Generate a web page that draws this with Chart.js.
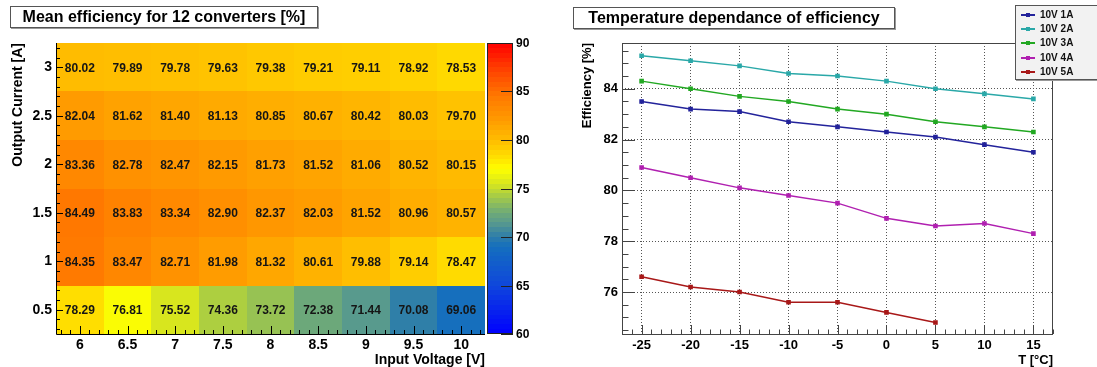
<!DOCTYPE html>
<html>
<head>
<meta charset="utf-8">
<script src="https://cdn.jsdelivr.net/npm/chart.js@4.4.0/dist/chart.umd.min.js"></script>
<style>
  html, body { margin: 0; padding: 0; background: #fff; }
  body { position: relative; width: 1097px; height: 367px; overflow: hidden; font-family: "Liberation Sans", Arial, sans-serif; }
  .pane { position: absolute; top: 0; height: 367px; }
  #leftPane { left: 0; width: 548px; }
  #rightPane { left: 548px; width: 549px; }
  .title { position: absolute; box-sizing: border-box; height: 22px; background: #fff; border: 1px solid #555; box-shadow: 1px 1px 0 #999; font-weight: bold; font-size: 16px; line-height: 20px; text-align: center; color: #000; }
  #legend { position: absolute; left: 1015px; top: 5px; width: 100px; height: 75px; box-sizing: border-box; background: #f2f2f2; border: 1px solid #555; box-shadow: 1px 1px 0 #999; font-weight: bold; font-size: 10px; color: #111; }
  .lrow { position: absolute; left: 5px; height: 12px; line-height: 12px; }
  .lsample { position: absolute; left: 0; top: 5px; width: 14px; height: 2px; }
  .lmark { position: absolute; left: 5px; top: -1px; width: 4px; height: 4px; }
  .ltext { position: absolute; left: 19px; top: 0; white-space: nowrap; }
</style>
</head>
<body>
<div class="pane" id="leftPane"><canvas id="heatChart"></canvas></div>
<div class="pane" id="rightPane"><canvas id="tempChart"></canvas></div>
<div class="title" style="left:10px; top:6px; width:308px;">Mean efficiency for 12 converters [%]</div>
<div class="title" style="left:573px; top:7px; width:322px;">Temperature dependance of efficiency</div>
<div id="legend"></div>
<script>
// ---- heatmap data (mean efficiency, %) ----
const voltages = [6, 6.5, 7, 7.5, 8, 8.5, 9, 9.5, 10];
const currents = [0.5, 1, 1.5, 2, 2.5, 3];
const eff05A = [78.29, 76.81, 75.52, 74.36, 73.72, 72.38, 71.44, 70.08, 69.06];
const eff1A = [84.35, 83.47, 82.71, 81.98, 81.32, 80.61, 79.88, 79.14, 78.47];
const eff15A = [84.49, 83.83, 83.34, 82.90, 82.37, 82.03, 81.52, 80.96, 80.57];
const eff2A = [83.36, 82.78, 82.47, 82.15, 81.73, 81.52, 81.06, 80.52, 80.15];
const eff25A = [82.04, 81.62, 81.40, 81.13, 80.85, 80.67, 80.42, 80.03, 79.70];
const eff3A = [80.02, 79.89, 79.78, 79.63, 79.38, 79.21, 79.11, 78.92, 78.53];
const colorbarTicks = [60, 65, 70, 75, 80, 85, 90];

// ---- temperature dependance data ----
const temperatures = [-25, -20, -15, -10, -5, 0, 5, 10, 15];
const eff10V1A = [83.5, 83.2, 83.1, 82.7, 82.5, 82.3, 82.1, 81.8, 81.5];
const eff10V2A = [85.3, 85.1, 84.9, 84.6, 84.5, 84.3, 84.0, 83.8, 83.6];
const eff10V3A = [84.3, 84.0, 83.7, 83.5, 83.2, 83.0, 82.7, 82.5, 82.3];
const eff10V4A = [80.9, 80.5, 80.1, 79.8, 79.5, 78.9, 78.6, 78.7, 78.3];
const eff10V5A = [76.6, 76.2, 76.0, 75.6, 75.6, 75.2, 74.8];
const seriesNames = ["10V 1A", "10V 2A", "10V 3A", "10V 4A", "10V 5A"];
const seriesColors = ["#23239b", "#2aa8a8", "#22a822", "#b020b0", "#a81818"];
const tempTicks = [-25, -20, -15, -10, -5, 0, 5, 10, 15];
const effTicks = [76, 78, 80, 82, 84];

const FONT = '"Liberation Sans", Arial, sans-serif';
Chart.defaults.font.family = FONT;
Chart.defaults.color = "#000";

// colour palette (value -> rgb), roughly the ROOT palette of the picture
const paletteStops = [
  [60, [0, 0, 255]], [65, [15, 70, 220]], [69, [20, 110, 190]], [70, [45, 125, 170]],
  [71.5, [90, 155, 140]], [72.5, [110, 170, 120]], [74, [160, 200, 75]], [75.5, [215, 230, 30]],
  [77, [255, 255, 0]], [78, [255, 228, 0]], [79, [255, 208, 0]], [80, [255, 188, 0]],
  [82, [255, 156, 0]], [84.5, [255, 120, 0]], [87, [255, 70, 0]], [90, [255, 0, 0]]
];
function paletteColor(v) {
  if (v <= paletteStops[0][0]) return "rgb(" + paletteStops[0][1].join(",") + ")";
  for (let i = 1; i < paletteStops.length; i++) {
    const [v1, c1] = paletteStops[i];
    const [v0, c0] = paletteStops[i - 1];
    if (v <= v1) {
      const t = (v - v0) / (v1 - v0);
      const c = c0.map((a, k) => Math.round(a + (c1[k] - a) * t));
      return "rgb(" + c.join(",") + ")";
    }
  }
  return "rgb(255,0,0)";
}

const rows = [eff05A, eff1A, eff15A, eff2A, eff25A, eff3A];
const cells = [];
currents.forEach((c, j) => {
  voltages.forEach((v, i) => cells.push({ x: v, y: c, v: rows[j][i] }));
});

function fixTicks(values) {
  return (scale) => { scale.ticks = values.map((v) => ({ value: v })); };
}

// draws the heatmap cells, their labels, the axes and the colour bar
const heatPlugin = {
  id: "heatPlugin",
  beforeDatasetsDraw(chart) {
    const { ctx } = chart;
    const xs = chart.scales.x, ys = chart.scales.y;
    const pts = chart.data.datasets[0].data;
    ctx.save();
    pts.forEach((p) => {
      const x0 = Math.round(xs.getPixelForValue(p.x - 0.25));
      const x1 = Math.round(xs.getPixelForValue(p.x + 0.25));
      const y0 = Math.round(ys.getPixelForValue(p.y + 0.25));
      const y1 = Math.round(ys.getPixelForValue(p.y - 0.25));
      ctx.fillStyle = paletteColor(p.v);
      ctx.fillRect(x0, y0, x1 - x0, y1 - y0);
    });
    ctx.fillStyle = "#151515";
    ctx.font = "bold 12px " + FONT;
    ctx.textAlign = "center";
    ctx.textBaseline = "middle";
    pts.forEach((p) => {
      ctx.fillText(p.v.toFixed(2), xs.getPixelForValue(p.x), ys.getPixelForValue(p.y) + 1);
    });
    ctx.restore();
  },
  afterDraw(chart) {
    const { ctx, chartArea: a } = chart;
    const xs = chart.scales.x, ys = chart.scales.y, zs = chart.scales.z;
    ctx.save();
    ctx.strokeStyle = "#000";
    ctx.lineWidth = 1;
    ctx.beginPath();
    ctx.moveTo(a.left + 0.5, a.top);
    ctx.lineTo(a.left + 0.5, a.bottom + 0.5);
    ctx.lineTo(a.right, a.bottom + 0.5);
    // y ticks (inside)
    for (let k = 3; k <= 32; k++) {
      const v = k / 10;
      const major = k % 5 === 0;
      const py = Math.round(ys.getPixelForValue(v)) + 0.5;
      ctx.moveTo(a.left, py);
      ctx.lineTo(a.left + (major ? 7 : 4), py);
    }
    // x ticks (inside)
    for (let k = 58; k <= 102; k++) {
      const v = k / 10;
      const major = k % 5 === 0;
      const px = Math.round(xs.getPixelForValue(v)) + 0.5;
      ctx.moveTo(px, a.bottom);
      ctx.lineTo(px, a.bottom - (major ? 8 : 4));
    }
    ctx.stroke();

    // colour bar
    const bx0 = a.right + 2, bx1 = a.right + 28;
    for (let v = 60; v < 90; v += 0.5) {
      const yTop = Math.round(zs.getPixelForValue(v + 0.5));
      const yBot = Math.round(zs.getPixelForValue(v));
      ctx.fillStyle = paletteColor(v + 0.25);
      ctx.fillRect(bx0, yTop, bx1 - bx0, yBot - yTop);
    }
    ctx.strokeStyle = "#222";
    ctx.strokeRect(bx0 + 0.5, Math.round(zs.getPixelForValue(90)) + 0.5, bx1 - bx0 - 1, Math.round(zs.getPixelForValue(60) - zs.getPixelForValue(90)) - 1);
    ctx.beginPath();
    ctx.fillStyle = "#000";
    ctx.font = "bold 12px " + FONT;
    ctx.textAlign = "left";
    ctx.textBaseline = "middle";
    colorbarTicks.forEach((t) => {
      const py = Math.round(zs.getPixelForValue(t)) + 0.5;
      ctx.moveTo(bx1, py);
      ctx.lineTo(bx1 - 12, py);
      ctx.fillText(String(t), bx1 + 3, py);
    });
    ctx.stroke();
    ctx.restore();
  }
};

new Chart(document.getElementById("heatChart"), {
  type: "scatter",
  data: { datasets: [{ data: cells, pointRadius: 0, pointHoverRadius: 0 }] },
  options: {
    responsive: true,
    maintainAspectRatio: false,
    animation: false,
    events: [],
    layout: { padding: { left: 0, top: 43, right: 63, bottom: 0 } },
    plugins: { legend: { display: false }, tooltip: { enabled: false } },
    scales: {
      x: {
        type: "linear", min: 5.75, max: 10.25,
        afterBuildTicks: fixTicks(voltages),
        afterFit: (s) => { s.height = 33; },
        grid: { display: false, drawTicks: false },
        border: { display: false },
        ticks: { padding: 3, font: { size: 14, weight: "bold" }, callback: (v) => String(v), maxRotation: 0, autoSkip: false },
        title: { display: true, text: "Input Voltage [V]", align: "end", font: { size: 14, weight: "bold", lineHeight: 1 }, padding: { top: 0, bottom: 0 } }
      },
      y: {
        type: "linear", min: 0.25, max: 3.25,
        afterBuildTicks: fixTicks(currents),
        afterFit: (s) => { s.width = 56; },
        grid: { display: false, drawTicks: false },
        border: { display: false },
        ticks: { padding: 4, font: { size: 14, weight: "bold" }, callback: (v) => String(v), autoSkip: false },
        title: { display: true, text: "Output Current [A]", align: "end", font: { size: 14, weight: "bold", lineHeight: 1 }, padding: { top: 11, bottom: 0 } }
      },
      z: { type: "linear", position: "right", min: 60, max: 90, display: false }
    }
  },
  plugins: [heatPlugin]
});

// box, inside ticks for the temperature plot
const framePlugin = {
  id: "framePlugin",
  afterDraw(chart) {
    const { ctx, chartArea: a } = chart;
    const xs = chart.scales.x, ys = chart.scales.y;
    ctx.save();
    ctx.strokeStyle = "#444";
    ctx.lineWidth = 1;
    ctx.strokeRect(a.left + 0.5, a.top + 0.5, a.right - a.left - 1, a.bottom - a.top);
    ctx.beginPath();
    for (let v = -27; v <= 17; v++) {
      const major = v % 5 === 0;
      const px = Math.round(xs.getPixelForValue(v)) + 0.5;
      ctx.moveTo(px, a.bottom);
      ctx.lineTo(px, a.bottom - (major ? 9 : 4.5));
    }
    for (let k = 149; k <= 171; k++) {
      const v = k / 2;
      const major = k % 4 === 0;
      const py = Math.round(ys.getPixelForValue(v)) + 0.5;
      ctx.moveTo(a.left, py);
      ctx.lineTo(a.left + (major ? 13 : 6.5), py);
    }
    ctx.stroke();
    ctx.restore();
  }
};

const effSeries = [eff10V1A, eff10V2A, eff10V3A, eff10V4A, eff10V5A];
const lineDatasets = effSeries.map((vals, i) => ({
  label: seriesNames[i],
  data: vals.map((y, k) => ({ x: temperatures[k], y: y })),
  borderColor: seriesColors[i],
  backgroundColor: seriesColors[i],
  borderWidth: 1.5,
  pointStyle: "rect",
  pointRadius: 2.2,
  pointHoverRadius: 2.2,
  tension: 0,
  fill: false
}));

const gridStyle = { color: "#555", lineWidth: 1, drawTicks: false };

new Chart(document.getElementById("tempChart"), {
  type: "line",
  data: { datasets: lineDatasets },
  options: {
    responsive: true,
    maintainAspectRatio: false,
    animation: false,
    events: [],
    layout: { padding: { left: 0, top: 43, right: 44, bottom: 0 } },
    plugins: { legend: { display: false }, tooltip: { enabled: false } },
    scales: {
      x: {
        type: "linear", min: -27, max: 17,
        afterBuildTicks: fixTicks(tempTicks),
        afterFit: (s) => { s.height = 33; },
        grid: gridStyle,
        border: { display: false, dash: [1, 2] },
        ticks: { padding: 4, font: { size: 13, weight: "bold" }, callback: (v) => String(v), maxRotation: 0, autoSkip: false },
        title: { display: true, text: "T [°C]", align: "end", font: { size: 13, weight: "bold", lineHeight: 1 }, padding: { top: 0, bottom: 0 } }
      },
      y: {
        type: "linear", min: 74.35, max: 85.8,
        afterBuildTicks: fixTicks(effTicks),
        afterFit: (s) => { s.width = 74; },
        grid: gridStyle,
        border: { display: false, dash: [1, 2] },
        ticks: { padding: 4, font: { size: 13, weight: "bold" }, callback: (v) => String(v), autoSkip: false },
        title: { display: true, text: "Efficiency [%]", align: "end", font: { size: 13, weight: "bold", lineHeight: 1 }, padding: { top: 33, bottom: 0 } }
      }
    }
  },
  plugins: [framePlugin]
});

// HTML legend built from the series names and colours
const legendBox = document.getElementById("legend");
seriesNames.forEach((name, i) => {
  const row = document.createElement("div");
  row.className = "lrow";
  row.style.top = (3 + i * 14.2) + "px";
  row.innerHTML = '<span class="lsample" style="background:' + seriesColors[i] + '"><span class="lmark" style="background:' + seriesColors[i] + '"></span></span><span class="ltext"></span>';
  row.querySelector(".ltext").textContent = name;
  legendBox.appendChild(row);
});
</script>
</body>
</html>
